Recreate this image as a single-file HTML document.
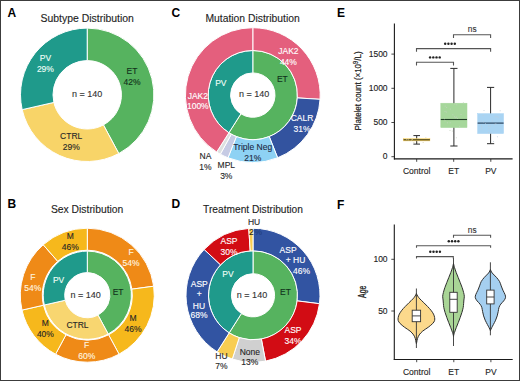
<!DOCTYPE html>
<html><head><meta charset="utf-8"><style>
html,body{margin:0;padding:0;background:#fff;}
body{width:520px;height:381px;overflow:hidden;}
svg{display:block;font-family:"Liberation Sans",sans-serif;}
</style></head><body>
<svg width="520" height="381" viewBox="0 0 520 381">
<rect x="0" y="0" width="520" height="381" fill="#fff"/>
<path d="M87.20,28.10A66.7,66.7 0 0 1 118.81,153.54L103.41,124.92A34.2,34.2 0 0 0 87.20,60.60Z" fill="#56b35f" stroke="#fff" stroke-width="1.0" stroke-linejoin="miter"/>
<path d="M118.81,153.54A66.7,66.7 0 0 1 22.17,109.64L53.86,102.41A34.2,34.2 0 0 0 103.41,124.92Z" fill="#f8d468" stroke="#fff" stroke-width="1.0" stroke-linejoin="miter"/>
<path d="M22.17,109.64A66.7,66.7 0 0 1 87.20,28.10L87.20,60.60A34.2,34.2 0 0 0 53.86,102.41Z" fill="#1f9a8b" stroke="#fff" stroke-width="1.0" stroke-linejoin="miter"/>
<path d="M87.30,251.10A44.1,44.1 0 0 1 108.20,334.03L98.01,315.10A22.6,22.6 0 0 0 87.30,272.60Z" fill="#56b35f" stroke="#fff" stroke-width="1.0" stroke-linejoin="miter"/>
<path d="M108.20,334.03A44.1,44.1 0 0 1 44.31,305.01L65.27,300.23A22.6,22.6 0 0 0 98.01,315.10Z" fill="#f8d670" stroke="#fff" stroke-width="1.0" stroke-linejoin="miter"/>
<path d="M44.31,305.01A44.1,44.1 0 0 1 87.30,251.10L87.30,272.60A22.6,22.6 0 0 0 65.27,300.23Z" fill="#1f9a8b" stroke="#fff" stroke-width="1.0" stroke-linejoin="miter"/>
<path d="M87.30,228.20A67,67 0 0 1 153.69,286.21L131.89,289.16A45.0,45.0 0 0 0 87.30,250.20Z" fill="#ef8a17" stroke="#fff" stroke-width="1.0" stroke-linejoin="miter"/>
<path d="M153.69,286.21A67,67 0 0 1 119.05,354.20L108.62,334.83A45.0,45.0 0 0 0 131.89,289.16Z" fill="#f6b81c" stroke="#fff" stroke-width="1.0" stroke-linejoin="miter"/>
<path d="M119.05,354.20A67,67 0 0 1 55.55,354.20L65.98,334.83A45.0,45.0 0 0 0 108.62,334.83Z" fill="#ef8a17" stroke="#fff" stroke-width="1.0" stroke-linejoin="miter"/>
<path d="M55.55,354.20A67,67 0 0 1 21.98,310.11L43.43,305.21A45.0,45.0 0 0 0 65.98,334.83Z" fill="#f6b81c" stroke="#fff" stroke-width="1.0" stroke-linejoin="miter"/>
<path d="M21.98,310.11A67,67 0 0 1 43.22,244.74L57.69,261.31A45.0,45.0 0 0 0 43.43,305.21Z" fill="#ef8a17" stroke="#fff" stroke-width="1.0" stroke-linejoin="miter"/>
<path d="M43.22,244.74A67,67 0 0 1 87.30,228.20L87.30,250.20A45.0,45.0 0 0 0 57.69,261.31Z" fill="#f6b81c" stroke="#fff" stroke-width="1.0" stroke-linejoin="miter"/>
<path d="M252.80,50.50A44.6,44.6 0 1 1 228.90,132.76L240.90,113.84A22.2,22.2 0 1 0 252.80,72.90Z" fill="#56b35f" stroke="#fff" stroke-width="1.0" stroke-linejoin="miter"/>
<path d="M228.90,132.76A44.6,44.6 0 0 1 252.80,50.50L252.80,72.90A22.2,22.2 0 0 0 240.90,113.84Z" fill="#1f9a8b" stroke="#fff" stroke-width="1.0" stroke-linejoin="miter"/>
<path d="M252.80,27.70A67.4,67.4 0 0 1 320.07,99.33L297.31,97.90A44.6,44.6 0 0 0 252.80,50.50Z" fill="#e45f7d" stroke="#fff" stroke-width="1.0" stroke-linejoin="miter"/>
<path d="M320.07,99.33A67.4,67.4 0 0 1 277.61,157.77L269.22,136.57A44.6,44.6 0 0 0 297.31,97.90Z" fill="#33539f" stroke="#fff" stroke-width="1.0" stroke-linejoin="miter"/>
<path d="M277.61,157.77A67.4,67.4 0 0 1 227.99,157.77L236.38,136.57A44.6,44.6 0 0 0 269.22,136.57Z" fill="#8ed2f4" stroke="#fff" stroke-width="1.0" stroke-linejoin="miter"/>
<path d="M227.99,157.77A67.4,67.4 0 0 1 220.33,154.16L231.31,134.18A44.6,44.6 0 0 0 236.38,136.57Z" fill="#c6cbe4" stroke="#fff" stroke-width="1.0" stroke-linejoin="miter"/>
<path d="M220.33,154.16A67.4,67.4 0 0 1 216.69,152.01L228.90,132.76A44.6,44.6 0 0 0 231.31,134.18Z" fill="#dde0e0" stroke="#fff" stroke-width="1.0" stroke-linejoin="miter"/>
<path d="M216.69,152.01A67.4,67.4 0 0 1 252.80,27.70L252.80,50.50A44.6,44.6 0 0 0 228.90,132.76Z" fill="#e45f7d" stroke="#fff" stroke-width="1.0" stroke-linejoin="miter"/>
<path d="M253.00,250.80A44.5,44.5 0 1 1 229.16,332.87L241.43,313.54A21.6,21.6 0 1 0 253.00,273.70Z" fill="#56b35f" stroke="#fff" stroke-width="1.0" stroke-linejoin="miter"/>
<path d="M229.16,332.87A44.5,44.5 0 0 1 253.00,250.80L253.00,273.70A21.6,21.6 0 0 0 241.43,313.54Z" fill="#1f9a8b" stroke="#fff" stroke-width="1.0" stroke-linejoin="miter"/>
<path d="M253.00,228.30A67.0,67.0 0 0 1 319.47,303.70L297.15,300.88A44.5,44.5 0 0 0 253.00,250.80Z" fill="#3254a2" stroke="#fff" stroke-width="1.0" stroke-linejoin="miter"/>
<path d="M319.47,303.70A67.0,67.0 0 0 1 265.55,361.11L261.34,339.01A44.5,44.5 0 0 0 297.15,300.88Z" fill="#d20c14" stroke="#fff" stroke-width="1.0" stroke-linejoin="miter"/>
<path d="M265.55,361.11A67.0,67.0 0 0 1 232.30,359.02L239.25,337.62A44.5,44.5 0 0 0 261.34,339.01Z" fill="#d0d0d0" stroke="#fff" stroke-width="1.0" stroke-linejoin="miter"/>
<path d="M232.30,359.02A67.0,67.0 0 0 1 217.10,351.87L229.16,332.87A44.5,44.5 0 0 0 239.25,337.62Z" fill="#f8cd52" stroke="#fff" stroke-width="1.0" stroke-linejoin="miter"/>
<path d="M217.10,351.87A67.0,67.0 0 0 1 204.16,249.44L220.56,264.84A44.5,44.5 0 0 0 229.16,332.87Z" fill="#3254a2" stroke="#fff" stroke-width="1.0" stroke-linejoin="miter"/>
<path d="M204.16,249.44A67.0,67.0 0 0 1 248.79,228.43L250.21,250.89A44.5,44.5 0 0 0 220.56,264.84Z" fill="#d20c14" stroke="#fff" stroke-width="1.0" stroke-linejoin="miter"/>
<path d="M248.79,228.43A67.0,67.0 0 0 1 253.00,228.30L253.00,250.80A44.5,44.5 0 0 0 250.21,250.89Z" fill="#f8cd52" stroke="#fff" stroke-width="1.0" stroke-linejoin="miter"/>
<line x1="394.4" y1="23.5" x2="394.4" y2="159.4" stroke="#1a1a1a" stroke-width="1.1"/>
<line x1="393.9" y1="158.9" x2="512.6" y2="158.9" stroke="#1a1a1a" stroke-width="1.1"/>
<line x1="391.4" y1="156.70" x2="394.4" y2="156.70" stroke="#1a1a1a" stroke-width="0.8"/>
<text x="387.6" y="159.39999999999998" font-size="8.5" fill="#222" text-anchor="end" font-weight="normal" stroke="#222" stroke-width="0.12" >0</text>
<line x1="391.4" y1="122.50" x2="394.4" y2="122.50" stroke="#1a1a1a" stroke-width="0.8"/>
<text x="387.6" y="125.19999999999999" font-size="8.5" fill="#222" text-anchor="end" font-weight="normal" stroke="#222" stroke-width="0.12" >500</text>
<line x1="391.4" y1="88.30" x2="394.4" y2="88.30" stroke="#1a1a1a" stroke-width="0.8"/>
<text x="387.6" y="90.99999999999999" font-size="8.5" fill="#222" text-anchor="end" font-weight="normal" stroke="#222" stroke-width="0.12" >1000</text>
<line x1="391.4" y1="54.10" x2="394.4" y2="54.10" stroke="#1a1a1a" stroke-width="0.8"/>
<text x="387.6" y="56.79999999999998" font-size="8.5" fill="#222" text-anchor="end" font-weight="normal" stroke="#222" stroke-width="0.12" >1500</text>
<line x1="416.7" y1="159" x2="416.7" y2="161.8" stroke="#1a1a1a" stroke-width="0.8"/>
<text x="416.7" y="173.7" font-size="8.5" fill="#222" text-anchor="middle" font-weight="normal" stroke="#222" stroke-width="0.12" >Control</text>
<line x1="453.7" y1="159" x2="453.7" y2="161.8" stroke="#1a1a1a" stroke-width="0.8"/>
<text x="453.7" y="173.7" font-size="8.5" fill="#222" text-anchor="middle" font-weight="normal" stroke="#222" stroke-width="0.12" >ET</text>
<line x1="490.8" y1="159" x2="490.8" y2="161.8" stroke="#1a1a1a" stroke-width="0.8"/>
<text x="490.8" y="173.7" font-size="8.5" fill="#222" text-anchor="middle" font-weight="normal" stroke="#222" stroke-width="0.12" >PV</text>
<text transform="translate(361.2,91) rotate(-90) scale(0.83,1)" font-size="9.6" fill="#1a1a1a" stroke="#1a1a1a" stroke-width="0.2" text-anchor="middle">Platelet count (×10<tspan font-size="6.9" dy="-3.3">9</tspan><tspan dy="3.3">/L)</tspan></text>
<line x1="416.7" y1="135.6" x2="416.7" y2="144.1" stroke="#2a2a2a" stroke-width="1"/>
<line x1="413.4" y1="135.6" x2="420.0" y2="135.6" stroke="#2a2a2a" stroke-width="1"/>
<line x1="413.4" y1="144.1" x2="420.0" y2="144.1" stroke="#2a2a2a" stroke-width="1"/>
<rect x="403.5" y="138.7" width="26.4" height="2.200000000000017" fill="#f6cf63" stroke="#f6cf63" stroke-width="0.5"/>
<line x1="403.5" y1="139.8" x2="429.9" y2="139.8" stroke="#3b3812" stroke-width="1.1"/>
<line x1="453.9" y1="68.4" x2="453.9" y2="146" stroke="#2a2a2a" stroke-width="1"/>
<line x1="450.29999999999995" y1="68.4" x2="457.5" y2="68.4" stroke="#2a2a2a" stroke-width="1"/>
<line x1="450.29999999999995" y1="146" x2="457.5" y2="146" stroke="#2a2a2a" stroke-width="1"/>
<rect x="440.79999999999995" y="103.2" width="26.2" height="24.39999999999999" fill="#a6d79b" stroke="#a6d79b" stroke-width="0.5"/>
<line x1="440.79999999999995" y1="119.5" x2="467.0" y2="119.5" stroke="#1e3d24" stroke-width="1.1"/>
<line x1="490.6" y1="87.4" x2="490.6" y2="143.7" stroke="#2a2a2a" stroke-width="1"/>
<line x1="487.0" y1="87.4" x2="494.20000000000005" y2="87.4" stroke="#2a2a2a" stroke-width="1"/>
<line x1="487.0" y1="143.7" x2="494.20000000000005" y2="143.7" stroke="#2a2a2a" stroke-width="1"/>
<rect x="477.6" y="113.6" width="26.0" height="20.0" fill="#a9d4f3" stroke="#a9d4f3" stroke-width="0.5"/>
<line x1="477.6" y1="123.1" x2="503.6" y2="123.1" stroke="#1d3550" stroke-width="1.1"/>
<circle cx="450.3" cy="109.0" r="0.5" fill="#c4d2bf"/>
<circle cx="456.8" cy="104.7" r="0.5" fill="#c4d2bf"/>
<circle cx="454.5" cy="116.8" r="0.5" fill="#c4d2bf"/>
<circle cx="445.0" cy="120.7" r="0.5" fill="#c4d2bf"/>
<circle cx="444.5" cy="118.7" r="0.5" fill="#c4d2bf"/>
<circle cx="445.2" cy="105.9" r="0.5" fill="#c4d2bf"/>
<circle cx="452.3" cy="131.0" r="0.5" fill="#c4d2bf"/>
<circle cx="446.3" cy="112.0" r="0.5" fill="#c4d2bf"/>
<circle cx="456.3" cy="137.8" r="0.5" fill="#c4d2bf"/>
<circle cx="455.3" cy="117.7" r="0.5" fill="#c4d2bf"/>
<circle cx="463.3" cy="102.8" r="0.5" fill="#c4d2bf"/>
<circle cx="461.0" cy="114.4" r="0.5" fill="#c4d2bf"/>
<circle cx="446.7" cy="107.4" r="0.5" fill="#c4d2bf"/>
<circle cx="450.0" cy="130.5" r="0.5" fill="#c4d2bf"/>
<circle cx="447.4" cy="122.7" r="0.5" fill="#c4d2bf"/>
<circle cx="456.6" cy="117.0" r="0.5" fill="#c4d2bf"/>
<circle cx="454.8" cy="104.0" r="0.5" fill="#c4d2bf"/>
<circle cx="445.0" cy="111.4" r="0.5" fill="#c4d2bf"/>
<circle cx="457.4" cy="118.6" r="0.5" fill="#c4d2bf"/>
<circle cx="450.1" cy="122.8" r="0.5" fill="#c4d2bf"/>
<circle cx="452.9" cy="114.7" r="0.5" fill="#c4d2bf"/>
<circle cx="459.7" cy="126.2" r="0.5" fill="#c4d2bf"/>
<circle cx="485.5" cy="123.7" r="0.5" fill="#bfcddb"/>
<circle cx="491.1" cy="133.0" r="0.5" fill="#bfcddb"/>
<circle cx="495.2" cy="116.7" r="0.5" fill="#bfcddb"/>
<circle cx="500.2" cy="110.7" r="0.5" fill="#bfcddb"/>
<circle cx="489.0" cy="128.7" r="0.5" fill="#bfcddb"/>
<circle cx="483.6" cy="121.8" r="0.5" fill="#bfcddb"/>
<circle cx="481.4" cy="126.1" r="0.5" fill="#bfcddb"/>
<circle cx="495.9" cy="123.7" r="0.5" fill="#bfcddb"/>
<circle cx="498.1" cy="117.4" r="0.5" fill="#bfcddb"/>
<circle cx="494.5" cy="124.2" r="0.5" fill="#bfcddb"/>
<circle cx="492.2" cy="121.0" r="0.5" fill="#bfcddb"/>
<circle cx="497.4" cy="136.7" r="0.5" fill="#bfcddb"/>
<circle cx="490.1" cy="126.0" r="0.5" fill="#bfcddb"/>
<circle cx="481.8" cy="127.0" r="0.5" fill="#bfcddb"/>
<circle cx="493.5" cy="141.4" r="0.5" fill="#bfcddb"/>
<circle cx="497.0" cy="116.6" r="0.5" fill="#bfcddb"/>
<circle cx="488.3" cy="126.1" r="0.5" fill="#bfcddb"/>
<circle cx="481.1" cy="121.1" r="0.5" fill="#bfcddb"/>
<circle cx="484.0" cy="110.6" r="0.5" fill="#bfcddb"/>
<circle cx="481.8" cy="129.0" r="0.5" fill="#bfcddb"/>
<circle cx="483.2" cy="115.5" r="0.5" fill="#bfcddb"/>
<circle cx="488.4" cy="132.8" r="0.5" fill="#bfcddb"/>
<circle cx="408.3" cy="139.7" r="0.5" fill="#d8cfa8"/>
<circle cx="417.7" cy="142.6" r="0.5" fill="#d8cfa8"/>
<circle cx="423.1" cy="142.4" r="0.5" fill="#d8cfa8"/>
<circle cx="412.3" cy="139.6" r="0.5" fill="#d8cfa8"/>
<circle cx="413.9" cy="142.6" r="0.5" fill="#d8cfa8"/>
<circle cx="425.9" cy="137.7" r="0.5" fill="#d8cfa8"/>
<circle cx="410.2" cy="138.4" r="0.5" fill="#d8cfa8"/>
<circle cx="411.4" cy="139.9" r="0.5" fill="#d8cfa8"/>
<circle cx="418.5" cy="138.6" r="0.5" fill="#d8cfa8"/>
<circle cx="406.8" cy="139.6" r="0.5" fill="#d8cfa8"/>
<path d="M453.5,38.0V34.8H490.6V38.0" fill="none" stroke="#555" stroke-width="1.1"/>
<text x="472.2" y="32.3" font-size="8.3" fill="#333" text-anchor="middle" font-weight="normal" stroke="#333" stroke-width="0.12" >ns</text>
<path d="M416.5,51.800000000000004V48.6H490.6V51.800000000000004" fill="none" stroke="#555" stroke-width="1.1"/>
<path d="M416.5,65.5V62.3H453.5V65.5" fill="none" stroke="#555" stroke-width="1.1"/>
<circle cx="445.20" cy="43.8" r="1.22" fill="#222"/><circle cx="448.40" cy="43.8" r="1.22" fill="#222"/><circle cx="451.60" cy="43.8" r="1.22" fill="#222"/><circle cx="454.80" cy="43.8" r="1.22" fill="#222"/>
<circle cx="430.10" cy="57.4" r="1.22" fill="#222"/><circle cx="433.30" cy="57.4" r="1.22" fill="#222"/><circle cx="436.50" cy="57.4" r="1.22" fill="#222"/><circle cx="439.70" cy="57.4" r="1.22" fill="#222"/>
<line x1="394.3" y1="224.4" x2="394.3" y2="360" stroke="#1a1a1a" stroke-width="1.1"/>
<line x1="393.8" y1="359.5" x2="512.7" y2="359.5" stroke="#1a1a1a" stroke-width="1.1"/>
<line x1="391.3" y1="311.00" x2="394.3" y2="311.00" stroke="#1a1a1a" stroke-width="0.8"/>
<text x="387.6" y="313.7" font-size="8.5" fill="#222" text-anchor="end" font-weight="normal" stroke="#222" stroke-width="0.12" >50</text>
<line x1="391.3" y1="259.30" x2="394.3" y2="259.30" stroke="#1a1a1a" stroke-width="0.8"/>
<text x="387.6" y="261.99999999999994" font-size="8.5" fill="#222" text-anchor="end" font-weight="normal" stroke="#222" stroke-width="0.12" >100</text>
<line x1="416.7" y1="359.6" x2="416.7" y2="362.2" stroke="#1a1a1a" stroke-width="0.8"/>
<text x="416.7" y="374.8" font-size="8.5" fill="#222" text-anchor="middle" font-weight="normal" stroke="#222" stroke-width="0.12" >Control</text>
<line x1="453.8" y1="359.6" x2="453.8" y2="362.2" stroke="#1a1a1a" stroke-width="0.8"/>
<text x="453.8" y="374.8" font-size="8.5" fill="#222" text-anchor="middle" font-weight="normal" stroke="#222" stroke-width="0.12" >ET</text>
<line x1="490.9" y1="359.6" x2="490.9" y2="362.2" stroke="#1a1a1a" stroke-width="0.8"/>
<text x="490.9" y="374.8" font-size="8.5" fill="#222" text-anchor="middle" font-weight="normal" stroke="#222" stroke-width="0.12" >PV</text>
<text transform="translate(366.3,291.8) rotate(-90) scale(0.68,1)" font-size="10.1" fill="#1a1a1a" stroke="#1a1a1a" stroke-width="0.3" text-anchor="middle">Age</text>
<path d="M416.40,293.50C416.18,293.93 415.68,295.20 415.10,296.10C414.52,297.00 413.92,297.80 412.90,298.90C411.88,300.00 410.28,301.43 409.00,302.70C407.72,303.97 406.40,305.23 405.20,306.50C404.00,307.77 402.78,309.03 401.80,310.30C400.82,311.57 399.90,312.90 399.30,314.10C398.70,315.30 398.38,316.43 398.20,317.50C398.02,318.57 397.88,319.50 398.20,320.50C398.52,321.50 399.03,322.37 400.10,323.50C401.17,324.63 402.93,326.03 404.60,327.30C406.27,328.57 408.60,329.83 410.10,331.10C411.60,332.37 412.73,333.65 413.60,334.90C414.47,336.15 414.88,337.35 415.30,338.60C415.72,339.85 415.92,341.58 416.10,342.40C416.28,343.22 416.35,343.32 416.40,343.50C416.45,343.68 416.35,343.68 416.40,343.50C416.45,343.32 416.52,343.22 416.70,342.40C416.88,341.58 417.08,339.85 417.50,338.60C417.92,337.35 418.33,336.15 419.20,334.90C420.07,333.65 421.20,332.37 422.70,331.10C424.20,329.83 426.53,328.57 428.20,327.30C429.87,326.03 431.63,324.63 432.70,323.50C433.77,322.37 434.28,321.50 434.60,320.50C434.92,319.50 434.78,318.57 434.60,317.50C434.42,316.43 434.10,315.30 433.50,314.10C432.90,312.90 431.98,311.57 431.00,310.30C430.02,309.03 428.80,307.77 427.60,306.50C426.40,305.23 425.08,303.97 423.80,302.70C422.52,301.43 420.92,300.00 419.90,298.90C418.88,297.80 418.28,297.00 417.70,296.10C417.12,295.20 416.62,293.93 416.40,293.50Z" fill="#fcd98c" stroke="#2e2e2e" stroke-width="1"/>
<line x1="416.4" y1="288.5" x2="416.4" y2="348" stroke="#333" stroke-width="0.9"/>
<rect x="412.2" y="310.2" width="8.4" height="11.5" fill="#fff" stroke="#333" stroke-width="0.9"/>
<line x1="412.2" y1="315.9" x2="420.59999999999997" y2="315.9" stroke="#333" stroke-width="0.9"/>
<path d="M453.50,263.50C453.33,264.17 452.95,266.00 452.50,267.50C452.05,269.00 451.42,270.83 450.80,272.50C450.18,274.17 449.47,275.83 448.80,277.50C448.13,279.17 447.45,280.83 446.80,282.50C446.15,284.17 445.47,285.83 444.90,287.50C444.33,289.17 443.77,291.04 443.40,292.50C443.03,293.96 442.75,295.00 442.70,296.25C442.65,297.50 442.98,298.75 443.10,300.00C443.22,301.25 443.28,302.50 443.40,303.75C443.52,305.00 443.52,306.04 443.80,307.50C444.08,308.96 444.60,310.83 445.10,312.50C445.60,314.17 446.20,315.83 446.80,317.50C447.40,319.17 448.05,320.83 448.70,322.50C449.35,324.17 450.07,325.83 450.70,327.50C451.33,329.17 452.03,331.08 452.50,332.50C452.97,333.92 453.33,335.42 453.50,336.00C453.67,336.58 453.33,336.58 453.50,336.00C453.67,335.42 454.03,333.92 454.50,332.50C454.97,331.08 455.67,329.17 456.30,327.50C456.93,325.83 457.65,324.17 458.30,322.50C458.95,320.83 459.60,319.17 460.20,317.50C460.80,315.83 461.40,314.17 461.90,312.50C462.40,310.83 462.92,308.96 463.20,307.50C463.48,306.04 463.48,305.00 463.60,303.75C463.72,302.50 463.78,301.25 463.90,300.00C464.02,298.75 464.35,297.50 464.30,296.25C464.25,295.00 463.97,293.96 463.60,292.50C463.23,291.04 462.67,289.17 462.10,287.50C461.53,285.83 460.85,284.17 460.20,282.50C459.55,280.83 458.87,279.17 458.20,277.50C457.53,275.83 456.82,274.17 456.20,272.50C455.58,270.83 454.95,269.00 454.50,267.50C454.05,266.00 453.67,264.17 453.50,263.50Z" fill="#a9d596" stroke="#2e2e2e" stroke-width="1"/>
<line x1="453.5" y1="258" x2="453.5" y2="346" stroke="#333" stroke-width="0.9"/>
<rect x="449.8" y="292.3" width="7.4" height="20.0" fill="#fff" stroke="#333" stroke-width="0.9"/>
<line x1="449.8" y1="299.3" x2="457.2" y2="299.3" stroke="#333" stroke-width="0.9"/>
<path d="M490.40,269.60C490.10,270.17 489.60,271.72 488.60,273.00C487.60,274.28 485.63,275.87 484.40,277.30C483.17,278.73 482.00,280.17 481.20,281.60C480.40,283.03 480.15,284.47 479.60,285.90C479.05,287.33 478.53,288.77 477.90,290.20C477.27,291.63 476.23,293.25 475.80,294.50C475.37,295.75 475.08,296.63 475.30,297.70C475.52,298.77 476.32,299.83 477.10,300.90C477.88,301.97 479.22,303.02 480.00,304.10C480.78,305.18 481.37,306.15 481.80,307.40C482.23,308.65 482.30,310.18 482.60,311.60C482.90,313.02 483.17,314.47 483.60,315.90C484.03,317.33 484.57,318.77 485.20,320.20C485.83,321.63 486.75,323.25 487.40,324.50C488.05,325.75 488.60,326.70 489.10,327.70C489.60,328.70 490.18,330.03 490.40,330.50C490.62,330.97 490.18,330.97 490.40,330.50C490.62,330.03 491.20,328.70 491.70,327.70C492.20,326.70 492.75,325.75 493.40,324.50C494.05,323.25 494.97,321.63 495.60,320.20C496.23,318.77 496.77,317.33 497.20,315.90C497.63,314.47 497.90,313.02 498.20,311.60C498.50,310.18 498.57,308.65 499.00,307.40C499.43,306.15 500.02,305.18 500.80,304.10C501.58,303.02 502.92,301.97 503.70,300.90C504.48,299.83 505.28,298.77 505.50,297.70C505.72,296.63 505.43,295.75 505.00,294.50C504.57,293.25 503.53,291.63 502.90,290.20C502.27,288.77 501.75,287.33 501.20,285.90C500.65,284.47 500.40,283.03 499.60,281.60C498.80,280.17 497.63,278.73 496.40,277.30C495.17,275.87 493.20,274.28 492.20,273.00C491.20,271.72 490.70,270.17 490.40,269.60Z" fill="#a5cff0" stroke="#2e2e2e" stroke-width="1"/>
<line x1="490.4" y1="262.3" x2="490.4" y2="335.3" stroke="#333" stroke-width="0.9"/>
<rect x="486.7" y="290.1" width="7.4" height="13.799999999999955" fill="#fff" stroke="#333" stroke-width="0.9"/>
<line x1="486.7" y1="297.0" x2="494.09999999999997" y2="297.0" stroke="#333" stroke-width="0.9"/>
<path d="M453.5,237.70000000000002V235.3H490.6V237.70000000000002" fill="none" stroke="#555" stroke-width="1.1"/>
<text x="472.2" y="233.2" font-size="8.3" fill="#333" text-anchor="middle" font-weight="normal" stroke="#333" stroke-width="0.12" >ns</text>
<path d="M416.5,247.7V245.7H490.6V247.7" fill="none" stroke="#555" stroke-width="1.1"/>
<path d="M416.5,258.6V256.6H453.3V258.6" fill="none" stroke="#555" stroke-width="1.1"/>
<circle cx="448.80" cy="241.2" r="1.22" fill="#222"/><circle cx="452.00" cy="241.2" r="1.22" fill="#222"/><circle cx="455.20" cy="241.2" r="1.22" fill="#222"/><circle cx="458.40" cy="241.2" r="1.22" fill="#222"/>
<circle cx="430.30" cy="251.7" r="1.22" fill="#222"/><circle cx="433.50" cy="251.7" r="1.22" fill="#222"/><circle cx="436.70" cy="251.7" r="1.22" fill="#222"/><circle cx="439.90" cy="251.7" r="1.22" fill="#222"/>
<text x="7.6" y="16.6" font-size="12" fill="#000" text-anchor="start" font-weight="bold" >A</text>
<text x="7.6" y="208.2" font-size="12" fill="#000" text-anchor="start" font-weight="bold" >B</text>
<text x="171.6" y="16.8" font-size="12" fill="#000" text-anchor="start" font-weight="bold" >C</text>
<text x="171.6" y="207.8" font-size="12" fill="#000" text-anchor="start" font-weight="bold" >D</text>
<text x="337" y="16.6" font-size="12" fill="#000" text-anchor="start" font-weight="bold" >E</text>
<text x="337" y="208.5" font-size="12" fill="#000" text-anchor="start" font-weight="bold" >F</text>
<text x="87.2" y="21.8" font-size="10.45" fill="#1e1e1e" text-anchor="middle" font-weight="normal" stroke="#1e1e1e" stroke-width="0.12" >Subtype Distribution</text>
<text x="87.1" y="213" font-size="10.35" fill="#1e1e1e" text-anchor="middle" font-weight="normal" stroke="#1e1e1e" stroke-width="0.12" >Sex Distribution</text>
<text x="252.6" y="21.8" font-size="10.35" fill="#1e1e1e" text-anchor="middle" font-weight="normal" stroke="#1e1e1e" stroke-width="0.12" >Mutation Distribution</text>
<text x="253" y="213" font-size="10.2" fill="#1e1e1e" text-anchor="middle" font-weight="normal" stroke="#1e1e1e" stroke-width="0.12" >Treatment Distribution</text>
<text x="87.1" y="97.1" font-size="9" fill="#333" text-anchor="middle" font-weight="normal" stroke="#333" stroke-width="0.12" >n = 140</text>
<text x="85.6" y="298" font-size="9" fill="#333" text-anchor="middle" font-weight="normal" stroke="#333" stroke-width="0.12" >n = 140</text>
<text x="254.1" y="96.9" font-size="9" fill="#333" text-anchor="middle" font-weight="normal" stroke="#333" stroke-width="0.12" >n = 140</text>
<text x="252" y="298.3" font-size="9" fill="#333" text-anchor="middle" font-weight="normal" stroke="#333" stroke-width="0.12" >n = 140</text>
<text x="45.4" y="60.5" font-size="8.5" fill="#f0fff8" text-anchor="middle" font-weight="normal" stroke="#f0fff8" stroke-width="0.12" >PV</text><text x="45.4" y="71.5" font-size="8.5" fill="#f0fff8" text-anchor="middle" font-weight="normal" stroke="#f0fff8" stroke-width="0.12" >29%</text>
<text x="132" y="74.2" font-size="8.5" fill="#10301a" text-anchor="middle" font-weight="normal" stroke="#10301a" stroke-width="0.12" >ET</text><text x="132" y="85.2" font-size="8.5" fill="#10301a" text-anchor="middle" font-weight="normal" stroke="#10301a" stroke-width="0.12" >42%</text>
<text x="71.2" y="138.9" font-size="8.5" fill="#262626" text-anchor="middle" font-weight="normal" stroke="#262626" stroke-width="0.12" >CTRL</text><text x="71.2" y="149.9" font-size="8.5" fill="#262626" text-anchor="middle" font-weight="normal" stroke="#262626" stroke-width="0.12" >29%</text>
<text x="131" y="255.2" font-size="8.5" fill="#fff6e0" text-anchor="middle" font-weight="normal" stroke="#fff6e0" stroke-width="0.12" >F</text><text x="131" y="266.2" font-size="8.5" fill="#fff6e0" text-anchor="middle" font-weight="normal" stroke="#fff6e0" stroke-width="0.12" >54%</text>
<text x="133" y="321.2" font-size="8.5" fill="#262626" text-anchor="middle" font-weight="normal" stroke="#262626" stroke-width="0.12" >M</text><text x="133" y="332.2" font-size="8.5" fill="#262626" text-anchor="middle" font-weight="normal" stroke="#262626" stroke-width="0.12" >46%</text>
<text x="86.7" y="347.7" font-size="8.5" fill="#fff6e0" text-anchor="middle" font-weight="normal" stroke="#fff6e0" stroke-width="0.12" >F</text><text x="86.7" y="358.7" font-size="8.5" fill="#fff6e0" text-anchor="middle" font-weight="normal" stroke="#fff6e0" stroke-width="0.12" >60%</text>
<text x="32.8" y="279.9" font-size="8.5" fill="#fff6e0" text-anchor="middle" font-weight="normal" stroke="#fff6e0" stroke-width="0.12" >F</text><text x="32.8" y="290.9" font-size="8.5" fill="#fff6e0" text-anchor="middle" font-weight="normal" stroke="#fff6e0" stroke-width="0.12" >54%</text>
<text x="58.6" y="283" font-size="8.5" fill="#f0fff8" text-anchor="middle" font-weight="normal" stroke="#f0fff8" stroke-width="0.12" >PV</text>
<text x="70.3" y="238.5" font-size="8.5" fill="#262626" text-anchor="middle" font-weight="normal" stroke="#262626" stroke-width="0.12" >M</text><text x="70.3" y="249.5" font-size="8.5" fill="#262626" text-anchor="middle" font-weight="normal" stroke="#262626" stroke-width="0.12" >46%</text>
<text x="45.4" y="326.2" font-size="8.5" fill="#262626" text-anchor="middle" font-weight="normal" stroke="#262626" stroke-width="0.12" >M</text><text x="45.4" y="336.9" font-size="8.5" fill="#262626" text-anchor="middle" font-weight="normal" stroke="#262626" stroke-width="0.12" >40%</text>
<text x="77.5" y="328" font-size="8.5" fill="#262626" text-anchor="middle" font-weight="normal" stroke="#262626" stroke-width="0.12" >CTRL</text>
<text x="118.1" y="294.7" font-size="8.5" fill="#10301a" text-anchor="middle" font-weight="normal" stroke="#10301a" stroke-width="0.12" >ET</text>
<text x="288.4" y="53.9" font-size="8.5" fill="#fff" text-anchor="middle" font-weight="normal" stroke="#fff" stroke-width="0.12" >JAK2</text><text x="288.4" y="64.9" font-size="8.5" fill="#fff" text-anchor="middle" font-weight="normal" stroke="#fff" stroke-width="0.12" >44%</text>
<text x="282.4" y="82.2" font-size="8.5" fill="#10301a" text-anchor="middle" font-weight="normal" stroke="#10301a" stroke-width="0.12" >ET</text>
<text x="220.8" y="85.7" font-size="8.5" fill="#f0fff8" text-anchor="middle" font-weight="normal" stroke="#f0fff8" stroke-width="0.12" >PV</text>
<text x="197.8" y="99.0" font-size="8.5" fill="#fff" text-anchor="middle" font-weight="normal" stroke="#fff" stroke-width="0.12" >JAK2</text><text x="197.8" y="109.2" font-size="8.5" fill="#fff" text-anchor="middle" font-weight="normal" stroke="#fff" stroke-width="0.12" >100%</text>
<text x="302" y="121.3" font-size="8.5" fill="#fff" text-anchor="middle" font-weight="normal" stroke="#fff" stroke-width="0.12" >CALR</text><text x="302" y="132.3" font-size="8.5" fill="#fff" text-anchor="middle" font-weight="normal" stroke="#fff" stroke-width="0.12" >31%</text>
<text x="252.7" y="150.2" font-size="8.5" fill="#1d2a44" text-anchor="middle" font-weight="normal" stroke="#1d2a44" stroke-width="0.12" >Triple Neg</text><text x="252.7" y="161.0" font-size="8.5" fill="#1d2a44" text-anchor="middle" font-weight="normal" stroke="#1d2a44" stroke-width="0.12" >21%</text>
<text x="205.5" y="159.2" font-size="8.5" fill="#262626" text-anchor="middle" font-weight="normal" stroke="#262626" stroke-width="0.12" >NA</text><text x="205.5" y="170.1" font-size="8.5" fill="#262626" text-anchor="middle" font-weight="normal" stroke="#262626" stroke-width="0.12" >1%</text>
<text x="226.3" y="168" font-size="8.5" fill="#262626" text-anchor="middle" font-weight="normal" stroke="#262626" stroke-width="0.12" >MPL</text><text x="226.3" y="178.7" font-size="8.5" fill="#262626" text-anchor="middle" font-weight="normal" stroke="#262626" stroke-width="0.12" >3%</text>
<text x="254.1" y="224.5" font-size="8.5" fill="#262626" text-anchor="middle" font-weight="normal" stroke="#262626" stroke-width="0.12" >HU</text>
<text x="251.3" y="234.7" font-size="8.5" fill="#262626" text-anchor="middle" font-weight="normal" stroke="#262626" stroke-width="0.12" >2</text>
<text x="254.5" y="234.7" font-size="8.5" fill="#22407e" text-anchor="start" font-weight="normal" stroke="#22407e" stroke-width="0.12" >%</text>
<text x="288.1" y="252.6" font-size="8.5" fill="#fff" text-anchor="middle" font-weight="normal" stroke="#fff" stroke-width="0.12" >ASP</text>
<text x="295.5" y="263" font-size="8.5" fill="#fff" text-anchor="middle" font-weight="normal" stroke="#fff" stroke-width="0.12" >+ HU</text>
<text x="301.6" y="274.1" font-size="8.5" fill="#fff" text-anchor="middle" font-weight="normal" stroke="#fff" stroke-width="0.12" >46%</text>
<text x="285.5" y="294.7" font-size="8.5" fill="#10301a" text-anchor="middle" font-weight="normal" stroke="#10301a" stroke-width="0.12" >ET</text>
<text x="293" y="333.3" font-size="8.5" fill="#fff" text-anchor="middle" font-weight="normal" stroke="#fff" stroke-width="0.12" >ASP</text><text x="293" y="344.3" font-size="8.5" fill="#fff" text-anchor="middle" font-weight="normal" stroke="#fff" stroke-width="0.12" >34%</text>
<text x="249.8" y="354.6" font-size="8.5" fill="#262626" text-anchor="middle" font-weight="normal" stroke="#262626" stroke-width="0.12" >None</text><text x="249.8" y="365.40000000000003" font-size="8.5" fill="#262626" text-anchor="middle" font-weight="normal" stroke="#262626" stroke-width="0.12" >13%</text>
<text x="221.4" y="358.7" font-size="8.5" fill="#262626" text-anchor="middle" font-weight="normal" stroke="#262626" stroke-width="0.12" >HU</text><text x="221.4" y="369.09999999999997" font-size="8.5" fill="#262626" text-anchor="middle" font-weight="normal" stroke="#262626" stroke-width="0.12" >7%</text>
<text x="229" y="243.7" font-size="8.5" fill="#fff" text-anchor="middle" font-weight="normal" stroke="#fff" stroke-width="0.12" >ASP</text><text x="229" y="254.7" font-size="8.5" fill="#fff" text-anchor="middle" font-weight="normal" stroke="#fff" stroke-width="0.12" >30%</text>
<text x="228" y="277.3" font-size="8.5" fill="#f0fff8" text-anchor="middle" font-weight="normal" stroke="#f0fff8" stroke-width="0.12" >PV</text>
<text x="199.3" y="287.3" font-size="8.5" fill="#fff" text-anchor="middle" font-weight="normal" stroke="#fff" stroke-width="0.12" >ASP</text>
<text x="199.3" y="297.3" font-size="8.5" fill="#fff" text-anchor="middle" font-weight="normal" stroke="#fff" stroke-width="0.12" >+</text>
<text x="199" y="308.5" font-size="8.5" fill="#fff" text-anchor="middle" font-weight="normal" stroke="#fff" stroke-width="0.12" >HU</text>
<text x="199" y="318.4" font-size="8.5" fill="#fff" text-anchor="middle" font-weight="normal" stroke="#fff" stroke-width="0.12" >68%</text>
<rect x="0.5" y="0.5" width="519" height="380" fill="none" stroke="#3c3c3c" stroke-width="1"/>
</svg>
</body></html>
